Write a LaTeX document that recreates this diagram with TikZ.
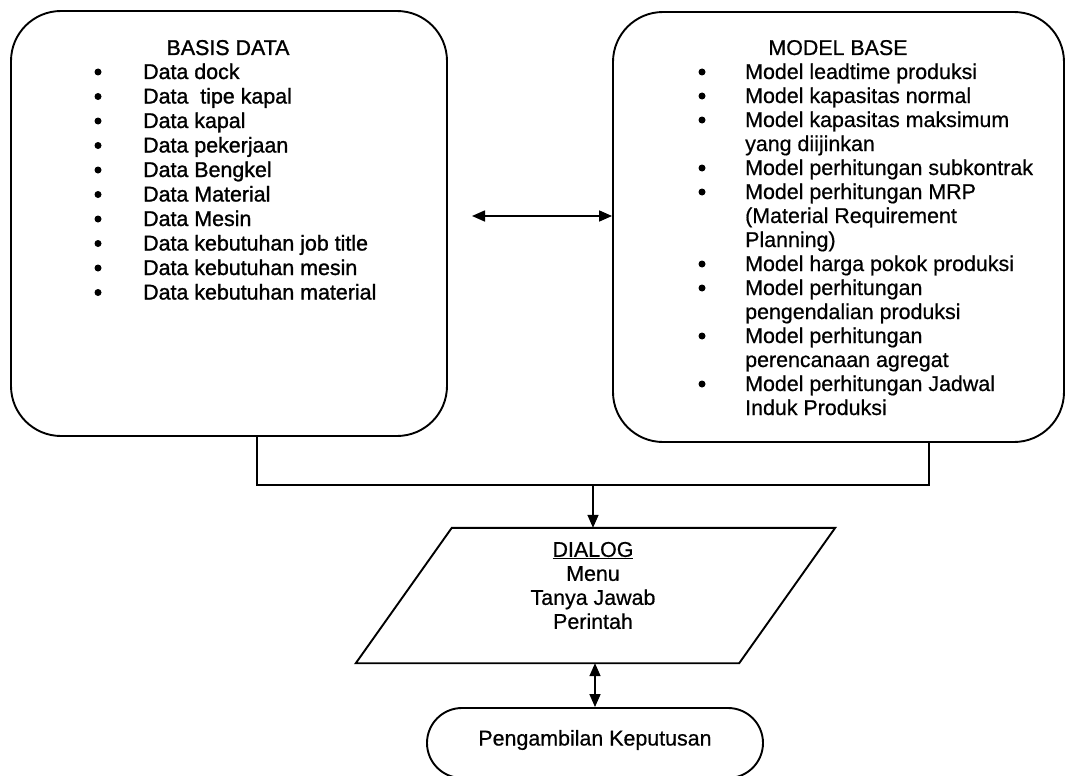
\documentclass[tikz,border=0pt]{standalone}
\usepackage{fontspec}
\setmainfont{Liberation Sans}[FakeBold=0.6]
\newfontfamily\heavyfont{Liberation Sans}[FakeBold=1.2]
\usetikzlibrary{arrows.meta}
\newcommand\fsz{\fontsize{21.4}{24}\selectfont}
\begin{document}
\begin{tikzpicture}[x=1pt,y=-1pt,
  box/.style={draw, line width=1.9pt, rounded corners=50pt, inner sep=0pt},
  conn/.style={line width=1.6pt},
  tip/.style={-{Triangle[length=13pt,width=11pt]}},
  dbl/.style={{Triangle[length=13pt,width=11pt]}-{Triangle[length=13pt,width=11pt]}},
  item/.style={anchor=base west, inner sep=0pt, font=\fsz},
  litem/.style={anchor=base west, inner sep=0pt, font=\heavyfont\fsz},
  title/.style={anchor=base, inner sep=0pt, font=\fsz},
  bul/.style={circle, fill, inner sep=0pt, minimum size=7pt}]
\useasboundingbox (0,0) rectangle (1066,776);

% boxes
\node[box, minimum width=436pt, minimum height=425pt] (basis) at (229,223.5) {};
\node[box, minimum width=451pt, minimum height=430pt] (model) at (838.5,227) {};

% left list
\node[title, font=\heavyfont\fsz] (bt) at (228,55) {BASIS DATA};
\foreach \t [count=\i] in {Data dock, Data~ tipe kapal, Data kapal, Data pekerjaan, Data Bengkel, Data Material, Data Mesin, Data kebutuhan job title, Data kebutuhan mesin, Data kebutuhan material}{
  \node[litem] (L\i) at (143,{79+24.5*(\i-1)}) {\t};
  \node[bul] (LB\i) at (98,{72+24.5*(\i-1)}) {};
}

% right list
\node[title] (mt) at (838,55) {MODEL BASE};
\node[item] (R1) at (745,79) {Model leadtime produksi};
\node[item] (R2) at (745,103) {Model kapasitas normal};
\node[item] (R3) at (745,127) {Model kapasitas maksimum};
\node[item] (R4) at (745,151) {yang diijinkan};
\node[item] (R5) at (745,175) {Model perhitungan subkontrak};
\node[item] (R6) at (745,199) {Model perhitungan MRP};
\node[item] (R7) at (745,223) {(Material Requirement};
\node[item] (R8) at (745,247) {Planning)};
\node[item] (R9) at (745,271) {Model harga pokok produksi};
\node[item] (R10) at (745,295) {Model perhitungan};
\node[item] (R11) at (745,319) {pengendalian produksi};
\node[item] (R12) at (745,343) {Model perhitungan};
\node[item] (R13) at (745,367) {perencanaan agregat};
\node[item] (R14) at (745,391) {Model perhitungan Jadwal};
\node[item] (R15) at (745,415) {Induk Produksi};
\foreach \k/\yy in {1/72,2/96,3/120,5/168,6/192,9/264,10/288,12/336,14/384}{
  \node[bul] (RB\k) at (702,\yy) {};
}

% arrow between boxes
\coordinate (a1) at (472,216);
\draw[conn, dbl] (a1) -- (a1 -| model.west);

% joining connector
\coordinate (lx) at (257,0);
\coordinate (rx) at (929,0);
\coordinate (j) at (593,485);
\draw[conn] (lx |- basis.south) |- (j) -| (rx |- model.south);

% dialog parallelogram
\node[minimum width=479pt, minimum height=135pt, inner sep=0pt] (dialog) at (595.5,595.5) {};
\draw[line width=1.9pt, line join=miter] ([xshift=96pt]dialog.north west) -- (dialog.north east)
  -- ([xshift=-96pt]dialog.south east) -- (dialog.south west) -- cycle;
\node[font=\fsz, align=center, inner sep=0pt] (dtext) at (593,585.5)
  {\underline{DIALOG}\\Menu\\Tanya Jawab\\Perintah};
\draw[conn, tip] (j) -- (j |- dialog.north);

% decision
\node[draw, line width=1.9pt, rounded corners=35pt, minimum width=336pt, minimum height=70pt,
  inner sep=0pt] (keputusan) at (595,743) {};
\node[font=\fsz, inner sep=0pt] (ktext) at (595,740) {Pengambilan Keputusan};
\draw[conn, dbl] (keputusan.north |- dialog.south) -- (keputusan.north);
\end{tikzpicture}
\end{document}
